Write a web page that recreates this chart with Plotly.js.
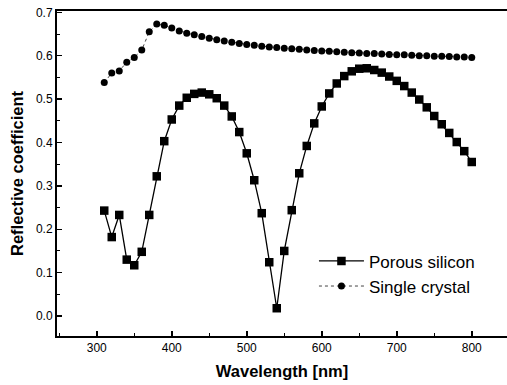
<!DOCTYPE html>
<html>
<head>
<meta charset="utf-8">
<script src="https://cdn.plot.ly/plotly-3.0.1.min.js"></script>
<style>
html,body{margin:0;padding:0;background:#fff;}
#chart{width:507px;height:385px;}
</style>
</head>
<body>
<div id="chart"></div>
<script>
// Wavelengths (nm)
const wavelength = [310,320,330,340,350,360,370,380,390,400,410,420,430,440,450,460,470,480,490,500,
  510,520,530,540,550,560,570,580,590,600,610,620,630,640,650,660,670,680,690,700,
  710,720,730,740,750,760,770,780,790,800];

// Porous silicon reflective coefficient
const porousSilicon = [0.243,0.182,0.233,0.130,0.117,0.148,0.233,0.322,0.403,0.453,0.485,0.503,0.512,0.515,0.511,0.502,0.485,0.460,0.424,0.375,
  0.313,0.237,0.124,0.018,0.150,0.244,0.329,0.392,0.444,0.483,0.513,0.536,0.553,0.564,0.570,0.571,0.567,0.561,0.552,0.542,
  0.530,0.515,0.499,0.481,0.461,0.442,0.422,0.401,0.380,0.355];

// Single crystal reflective coefficient
const singleCrystal = [0.538,0.560,0.565,0.585,0.596,0.613,0.655,0.673,0.670,0.664,0.657,0.652,0.648,0.644,0.640,0.637,0.634,0.631,0.628,0.626,
  0.624,0.622,0.620,0.619,0.617,0.616,0.615,0.613,0.612,0.611,0.610,0.609,0.608,0.607,0.606,0.605,0.605,0.604,0.603,0.602,
  0.602,0.601,0.600,0.600,0.599,0.599,0.598,0.597,0.597,0.596];

const seriesNames = ["Porous silicon", "Single crystal"];
const xTitle = "Wavelength [nm]";
const yTitle = "Reflective coefficient";

const traces = [
  {
    x: wavelength, y: porousSilicon, name: seriesNames[0],
    type: "scatter", mode: "lines+markers",
    line: {color: "#000", width: 1.3},
    marker: {symbol: "square", size: 8.5, color: "#000"}
  },
  {
    x: wavelength, y: singleCrystal, name: seriesNames[1],
    type: "scatter", mode: "lines+markers",
    line: {color: "#444", width: 1, dash: "dot"},
    marker: {symbol: "circle", size: 7, color: "#000"}
  }
];

const layout = {
  width: 507, height: 385,
  margin: {l: 57, r: 0, t: 11, b: 49},
  paper_bgcolor: "#fff", plot_bgcolor: "#fff",
  font: {family: "Liberation Sans, Arial, sans-serif", color: "#000"},
  showlegend: true,
  legend: {
    x: 0.571, y: 0.285, xanchor: "left", yanchor: "top",
    bgcolor: "rgba(0,0,0,0)", borderwidth: 0,
    font: {size: 17, color: "#000"},
    itemwidth: 45, tracegroupgap: 0
  },
  xaxis: {
    range: [247, 847],
    tickmode: "linear", tick0: 300, dtick: 100,
    ticks: "inside", ticklen: 5, tickwidth: 1.5, tickcolor: "#000",
    minor: {dtick: 50, ticks: "inside", ticklen: 3, tickwidth: 1, tickcolor: "#000"},
    showline: true, linecolor: "#000", linewidth: 2, mirror: true,
    showgrid: false, zeroline: false,
    tickfont: {size: 12, color: "#000"},
    title: {text: "<b>" + xTitle + "</b>", font: {size: 16.5, color: "#000"}, standoff: 11}
  },
  yaxis: {
    range: [-0.046, 0.703],
    tickmode: "linear", tick0: 0, dtick: 0.1, tickformat: ".1f",
    ticks: "inside", ticklen: 5, tickwidth: 1.5, tickcolor: "#000",
    minor: {dtick: 0.05, ticks: "inside", ticklen: 3, tickwidth: 1, tickcolor: "#000"},
    showline: true, linecolor: "#000", linewidth: 2, mirror: false,
    showgrid: false, zeroline: false,
    tickfont: {size: 12, color: "#000"},
    title: {text: "<b>" + yTitle + "</b>", font: {size: 16.5, color: "#000"}, standoff: 8}
  }
};

Plotly.newPlot("chart", traces, layout, {staticPlot: true, displayModeBar: false});
</script>
</body>
</html>
